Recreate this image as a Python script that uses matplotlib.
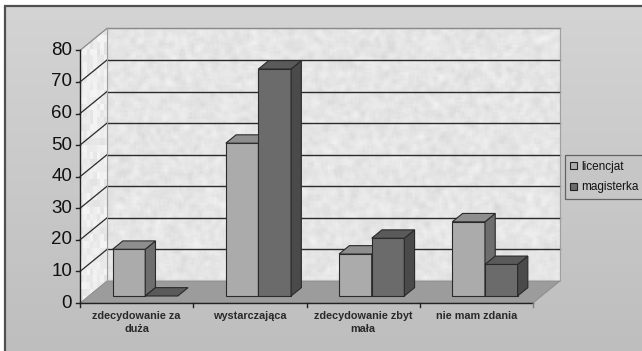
import matplotlib
matplotlib.use("Agg")
import matplotlib.pyplot as plt
import numpy as np
from matplotlib.patches import Polygon, Rectangle, Patch
from matplotlib.colors import LinearSegmentedColormap

# dane
CATS = ["zdecydowanie za\nduża", "wystarczająca", "zdecydowanie zbyt\nmała", "nie mam zdania"]
LICENCJAT = [14.8, 48.4, 13.3, 23.5]
MAGISTERKA = [0.0, 71.9, 18.3, 10.0]
YTICKS = [0, 10, 20, 30, 40, 50, 60, 70, 80]
SERIES = ["licencjat", "magisterka"]

plt.rcParams["font.family"] = ["Liberation Sans", "DejaVu Sans"]

W, H = 642, 351
# skala: 1 kategoria = 113.25 px, 1 jednostka wartości = 3.1575 px, początek osi w (80, 303)
PX_CAT, PX_VAL, X0, Y0 = 113.25, 3.1575, 80.0, 303.0
DX, DY = 27 / PX_CAT, 22 / PX_VAL          # głębokość wykresu 3D
F0, FD = 0.318, 0.38                        # położenie i głębokość słupków (ułamek DX/DY)
BW, GAP = 0.288, 0.212                      # szerokość słupka, odstęp od brzegu kategorii
YMAX = 80

fig = plt.figure(figsize=(W / 100, H / 100), dpi=100)
fig.patch.set_facecolor("white")
ax = fig.add_axes([0, 0, 1, 1])
ax.axis("off")
XL, XR = -X0 / PX_CAT, (W - X0) / PX_CAT
YB, YT = -(H - Y0) / PX_VAL, Y0 / PX_VAL

# tło obszaru wykresu (gradient) i ramka
bx0, by0 = XL + 5 / PX_CAT, YT - 6 / PX_VAL
grad = np.linspace(0, 1, 256).reshape(-1, 1)
cm_bg = LinearSegmentedColormap.from_list("bg", ["#d4d4d4", "#b8b8b8"])
ax.imshow(grad, cmap=cm_bg, extent=[bx0, XR + 2, YB - 30, by0], aspect="auto", zorder=0)
ax.add_patch(Rectangle((bx0, YB - 30), XR + 2 - bx0, by0 - YB + 30, fill=False,
                       ec="#505050", lw=1.6, zorder=1, clip_on=False))


def texture(shape, seed, lo, hi, k):
    rng = np.random.default_rng(seed)
    t = rng.random(shape)
    ker = np.ones(k) / k
    t = np.apply_along_axis(lambda r: np.convolve(r, ker, mode="same"), 0, t)
    t = np.apply_along_axis(lambda r: np.convolve(r, ker, mode="same"), 1, t)
    t = (t - t.min()) / (t.max() - t.min())
    return lo + (hi - lo) * t


# tylna ściana
back = [(DX, DY), (4 + DX, DY), (4 + DX, YMAX + DY), (DX, YMAX + DY)]
wall = Polygon(back, closed=True, fc="none", ec="none")
ax.add_patch(wall)
im = ax.imshow(texture((120, 220), 3, 0.84, 0.95, 3), cmap="gray", vmin=0, vmax=1,
               extent=[DX, 4 + DX, DY, YMAX + DY], aspect="auto", zorder=1)
im.set_clip_path(wall)

# lewa ściana boczna
side = [(0, 0), (DX, DY), (DX, YMAX + DY), (0, YMAX)]
sidep = Polygon(side, closed=True, fc="none", ec="none")
ax.add_patch(sidep)
im2 = ax.imshow(texture((40, 8), 5, 0.89, 0.96, 1), cmap="gray", vmin=0, vmax=1,
                extent=[0, DX, 0, YMAX + DY], aspect="auto", zorder=1,
                interpolation="nearest")
im2.set_clip_path(sidep)

# podłoga
ax.add_patch(Polygon([(0, 0), (4, 0), (4 + DX, DY), (DX, DY)], closed=True,
                     fc="#9c9c9c", ec="#8a8a8a", lw=0.6, zorder=2))

# linie siatki
for v in YTICKS[1:]:
    col = "#2a2a2a" if v < YMAX else "#8a8a8a"
    ax.plot([DX, 4 + DX], [v + DY, v + DY], color=col, lw=1.0, zorder=2)
    ax.plot([0, DX], [v, v + DY], color=col, lw=0.9, zorder=2)
ax.plot([DX, DX], [DY, YMAX + DY], color="#a0a0a0", lw=0.8, zorder=2)
ax.plot([4 + DX, 4 + DX], [DY, YMAX + DY], color="#a0a0a0", lw=0.8, zorder=2)

# oś wartości
ax.plot([0, 0], [0, YMAX], color="#222222", lw=1.0, zorder=3)
for v in YTICKS:
    ax.plot([-4 / PX_CAT, 0], [v, v], color="#222222", lw=1.0, zorder=3)
    ax.text(-8 / PX_CAT, v, str(v), ha="right", va="center", fontsize=13.5,
            color="#111111", zorder=3)

# oś kategorii
ax.plot([0, 4], [0, 0], color="#222222", lw=1.0, zorder=3)
for i in range(5):
    ax.plot([i, i], [0, -4 / PX_VAL], color="#222222" if i < 4 else "#808080",
            lw=1.0, zorder=3)
for i, c in enumerate(CATS):
    ax.text(i + 0.5, -8 / PX_VAL, c, ha="center", va="top", fontsize=7.8,
            fontweight="bold", color="#2a2a2a", linespacing=1.4, zorder=3)

# słupki 3D
COLORS = [("#ababab", "#8e8e8e", "#6e6e6e"), ("#6b6b6b", "#5a5a5a", "#4a4a4a")]
ox, oy = F0 * DX, F0 * DY
ddx, ddy = FD * DX, FD * DY
z = 4
for i in range(len(CATS)):
    for s, vals in enumerate([LICENCJAT, MAGISTERKA]):
        v = vals[i]
        x0 = i + GAP + s * BW + ox
        x1 = x0 + BW
        y0 = oy
        y1 = oy + v
        front, top, right = COLORS[s]
        kw = dict(closed=True, ec="#2a2a2a", lw=0.8, zorder=z)
        if v > 0:
            ax.add_patch(Polygon([(x0, y0), (x1, y0), (x1, y1), (x0, y1)], fc=front, **kw))
            ax.add_patch(Polygon([(x1, y0), (x1 + ddx, y0 + ddy), (x1 + ddx, y1 + ddy), (x1, y1)],
                                 fc=right, **kw))
        ax.add_patch(Polygon([(x0, y1), (x1, y1), (x1 + ddx, y1 + ddy), (x0 + ddx, y1 + ddy)],
                             fc=top, **kw))
        z += 1

ax.set_xlim(XL, XR)
ax.set_ylim(YB, YT)

# legenda
handles = [Patch(fc=COLORS[0][0], ec="#222222", lw=0.8),
           Patch(fc=COLORS[1][0], ec="#222222", lw=0.8)]
leg = fig.legend(handles, SERIES, loc="center left",
                 bbox_to_anchor=(565 / W, 1 - 177 / H), fontsize=8.5,
                 handlelength=0.55, handleheight=0.55, handletextpad=0.4,
                 labelspacing=0.75, borderpad=0.45, borderaxespad=0,
                 frameon=True, fancybox=False)
leg.get_frame().set_facecolor("#c6c6c6")
leg.get_frame().set_edgecolor("#4a4a4a")
leg.get_frame().set_linewidth(0.9)
for t in leg.get_texts():
    t.set_color("#111111")

fig.savefig("out.png", dpi=100)
